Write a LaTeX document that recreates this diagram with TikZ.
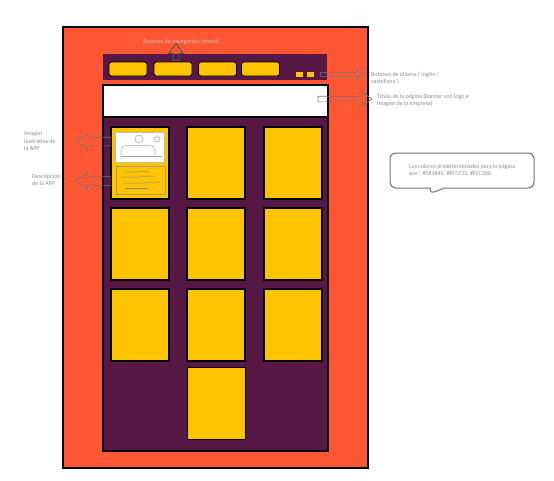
\documentclass[tikz,border=0pt]{standalone}
\usepackage{fontspec}
\setmainfont{Carlito}
\usetikzlibrary{calc}
\usetikzlibrary{shapes.arrows, shapes.callouts, shapes.geometric}

\definecolor{morado}{HTML}{581845}
\definecolor{naranja}{HTML}{FF5733}
\definecolor{amarillo}{HTML}{FFC300}
\definecolor{gris}{HTML}{8C8C8C}

\tikzset{
  tarjeta/.style={draw=black, fill=amarillo, line width=1.2pt, minimum width=58pt, minimum height=72pt, inner sep=0pt},
  boton/.style={draw=black, fill=amarillo, line width=0.8pt, rounded corners=2.5pt, minimum width=38pt, minimum height=14pt, inner sep=0pt},
  idioma/.style={fill=amarillo, minimum width=7pt, minimum height=5pt, inner sep=0pt},
  flecha/.style={single arrow, draw=gris!85!black, line width=0.7pt, inner sep=2.5pt, single arrow head extend=4pt, single arrow tip angle=70, minimum height=#1},
  nota/.style={text=gris, font=\fontsize{6}{7.5}\selectfont, align=left, inner sep=0pt},
}

\begin{document}
\begin{tikzpicture}[x=1pt, y=-1pt]
                    \useasboundingbox (0,0) rectangle (554,480);
                    \draw[fill=naranja, line width=1.5pt] (63,27) rectangle (368,468);
                    \fill[morado] (103,54) rectangle (327,80);
                    \draw[fill=white, line width=1.2pt] (103,85) rectangle (328,117);
                    \draw[fill=morado, line width=1.2pt] (103,117) rectangle (328,451);
                    \foreach \i/\x in {1/128, 2/173, 3/217.5, 4/260.5}
                        \node[boton] (boton-\i) at (\x,69) {};
                    \node[idioma] (ingles) at (299.5,74.5) {};
                    \node[idioma] (castellano) at (310.5,74.5) {};
                    \foreach \col/\x in {1/140, 2/216, 3/293}
                        \foreach \fila/\y in {1/163, 2/244, 3/325}
                            \node[tarjeta] (tarjeta-\fila-\col) at (\x,\y) {};
                    \node[tarjeta] (tarjeta-4-2) at (216.5,403.5) {};
                    \node[draw=gris!60, fill=white, minimum width=49pt, minimum height=30pt, inner sep=0pt] (imagen) at (139.5,147) {};
                    \draw[gris!80, line width=0.5pt] (139,139) circle[radius=4];
                    \draw[gris!80, line width=0.5pt] (121,155) -- (121,150) to[out=90, in=180] (128,145.5) -- (150,145.5) to[out=0, in=90] (155,150) -- (155,155);
                    \draw[gris!80, line width=0.5pt] (121,156) -- (162,156);
                    \node[star, star points=5, draw=gris!80, line width=0.5pt, minimum size=7pt, inner sep=0pt] (estrella) at (157,139) {};
                    \node[draw=gris!70!amarillo, line width=0.5pt, minimum width=49pt, minimum height=28pt, inner sep=0pt] (descripcion) at (140.5,180) {};
                    \draw[gris, line width=0.5pt] (125,172) -- (138,172) -- (141,171) -- (150,172);
                    \draw[gris, line width=0.5pt] (120,177) -- (140,177) -- (143,176) -- (155,176);
                    \draw[gris, line width=0.5pt] (123,183) -- (145,183) -- (148,182) -- (160,182);
                    \draw[gris, line width=0.5pt] (125,188) -- (148,188);
                    \node[flecha=17pt, rotate=90, draw=gris!60!black, line width=0.9pt] (flecha-menu) at (176,54) {};
                    \node[flecha=43pt, inner sep=1.5pt, single arrow head extend=3pt] (flecha-idioma) at (340.5,74.5) {};
                    \node[flecha=54pt] (flecha-titulo) at (343,99) {};
                    \node[flecha=35pt, rotate=180, inner sep=4pt] (flecha-imagen) at (96.5,141.5) {};
                    \node[flecha=35pt, rotate=180, inner sep=4pt] (flecha-descripcion) at (96.5,181) {};
                    \node[nota, text=gray!45] (txt-menu) at (181,42) {Botones de navegación (menú)};
                    \node[nota, anchor=west] (txt-idioma) at (371,78) {Botones de idioma ( inglés /\\castellano )};
                    \node[nota, anchor=west] (txt-titulo) at (377,100.5) {Título de la página (Banner con logo e\\imagen de la empresa)};
                    \node[nota, anchor=west] (txt-imagen) at (24,141.5) {Imagen\\ilustrativa de\\la APP};
                    \node[nota, anchor=west] (txt-descripcion) at (32,180) {Descripción\\de la APP};
                    \node[nota, shape=rectangle callout, draw=gris!80!black, line width=1pt, rounded corners=6pt, minimum width=144pt, minimum height=35pt, callout absolute pointer={(429,194)}, callout pointer width=14pt] (colores) at (462,170.5) {Los colores predeterminados para la página\\son : \#581845, \#FF5733, \#FFC300};
                \end{tikzpicture}
\end{document}
